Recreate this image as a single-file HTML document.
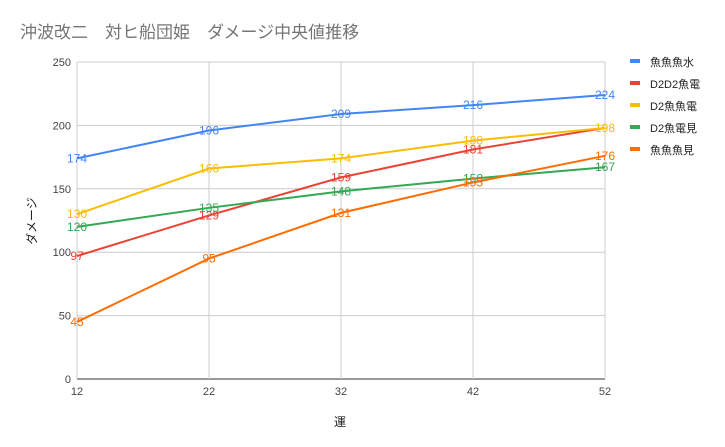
<!DOCTYPE html>
<html><head><meta charset="utf-8"><style>
body{margin:0;background:#fff}
svg{display:block;font-family:"Liberation Sans","Noto Sans CJK JP",sans-serif}
</style></head><body>
<svg id="c" width="725" height="447">
<text x="20" y="38" font-size="17" fill="#757575">沖波改二　対ヒ船団姫　ダメージ中央値推移</text>
<text x="340" y="426" font-size="12" fill="#222" text-anchor="middle">運</text>
<text x="0" y="0" font-size="12" fill="#222" text-anchor="middle" transform="translate(36,221) rotate(-90)">ダメージ</text>
<g id="grid"></g><g id="series"></g><g id="legend"></g>
</svg>
<script>
const categories=[12,22,32,42,52];
const yTicks=[0,50,100,150,200,250];
const seriesNames=["魚魚魚水","D2D2魚電","D2魚魚電","D2魚電見","魚魚魚見"];
const seriesColors=["#4285f4","#ea4335","#fbbc04","#34a853","#ff6d01"];
const sBlue=[174,196,209,216,224];
const sRed=[97,129,159,181,198];
const sYellow=[130,166,174,188,198];
const sGreen=[120,135,148,158,167];
const sOrange=[45,95,131,155,176];
const allSeries=[sBlue,sRed,sYellow,sGreen,sOrange];
const X0=77,X1=605,Y0=379,Y1=62;
const xs=v=>X0+(v-categories[0])/(categories[categories.length-1]-categories[0])*(X1-X0);
const ys=v=>Y0-(v-yTicks[0])/(yTicks[yTicks.length-1]-yTicks[0])*(Y0-Y1);
const NS="http://www.w3.org/2000/svg";
function mk(t,a,p){const e=document.createElementNS(NS,t);for(const k in a)e.setAttribute(k,a[k]);p.appendChild(e);return e;}
const grid=document.getElementById('grid');
yTicks.forEach(t=>{
  const l=mk('line',{x1:X0,x2:X1,y1:ys(t),y2:ys(t),stroke:t===0?'#333':'#ccc','stroke-width':1},grid);
  
  
  const tx=mk('text',{x:X0-6,y:ys(t)+4,'font-size':11,fill:'#444','text-anchor':'end'},grid);tx.textContent=t;
  
  
});
categories.forEach(c=>{
  const l=mk('line',{x1:xs(c),x2:xs(c),y1:Y1,y2:Y0,stroke:'#ccc','stroke-width':1},grid);
  
  
  const tx=mk('text',{x:xs(c),y:Y0+16,'font-size':11,fill:'#444','text-anchor':'middle'},grid);tx.textContent=c;
  
  
});
const sg=document.getElementById('series');
allSeries.forEach((s,i)=>{
  const p=mk('polyline',{points:s.map((v,j)=>xs(categories[j])+','+ys(v)).join(' '),fill:'none',stroke:seriesColors[i],'stroke-width':2},sg);
  
  
});
allSeries.forEach((s,i)=>{
  s.forEach((v,j)=>{
    if(i===1&&j===s.length-1)return;
    const t=mk('text',{x:xs(categories[j]),y:ys(v)+4,'font-size':12,fill:seriesColors[i],'text-anchor':'middle'},sg);t.textContent=v;
    
    
  });
});
const lg=document.getElementById('legend');
seriesNames.forEach((n,i)=>{
  const y=62+i*22;
  const r=mk('rect',{x:630,y:y-3,width:10,height:4,fill:seriesColors[i]},lg);
  
  
  const t=mk('text',{x:650,y:y+4,'font-size':11,fill:'#222'},lg);t.textContent=n;
  
  
});
</script>
</body></html>
